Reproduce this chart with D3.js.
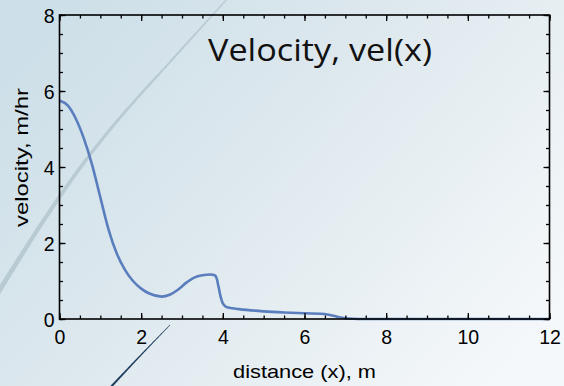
<!DOCTYPE html>
<html><head><meta charset="utf-8">
<script src="https://cdn.jsdelivr.net/npm/d3@7"></script>
<style>html,body{margin:0;padding:0;overflow:hidden}svg{display:block}</style>
</head><body>
<svg id="c" width="564" height="386"></svg>
<script>
const distance = [0,0.2,0.4,0.6,0.8,1.0,1.2,1.4,1.6,1.8,2.0,2.2,2.5,2.7,2.9,3.1,3.3,3.5,3.7,3.8,3.85,3.9,3.95,4.0,4.1,4.4,5.0,5.5,6.0,6.4,6.6,6.8,7.0,7.2,7.4,8,12];
const velocity = [5.75,5.62,5.27,4.74,4.05,3.2,2.36,1.73,1.3,1.0,0.8,0.67,0.59,0.64,0.77,0.95,1.09,1.15,1.17,1.15,1.07,0.82,0.57,0.41,0.31,0.26,0.2,0.17,0.15,0.14,0.11,0.06,0.02,0.005,0,0,0];
const xTickLabels = [0,2,4,6,8,10,12];
const yTickLabels = [0,2,4,6,8];
const titleText = "Velocity, vel(x)";
const xTitle = "distance (x), m";
const yTitle = "velocity, m/hr";

const svg = d3.select("#c");
const W = 564, H = 386;
const defs = svg.append("defs");
const g = defs.append("linearGradient").attr("id","bg").attr("x1","0").attr("y1","0.2").attr("x2","1").attr("y2","0.8");
g.append("stop").attr("offset","0").attr("stop-color","#cddfe8");
g.append("stop").attr("offset","0.5").attr("stop-color","#e0eaef");
g.append("stop").attr("offset","1").attr("stop-color","#f5f8fa");
svg.append("rect").attr("width",W).attr("height",H).attr("fill","url(#bg)");

// decorative tapered strokes
function taper(pts, w0, w1, color, op){
  const path = document.createElementNS("http://www.w3.org/2000/svg","path");
  path.setAttribute("d", d3.line().curve(d3.curveCatmullRom)(pts));
  const L = path.getTotalLength();
  const n = 80, left=[], right=[];
  for(let i=0;i<=n;i++){
    const t=i/n, p=path.getPointAtLength(t*L), q=path.getPointAtLength(Math.min(L,t*L+0.5)), r=path.getPointAtLength(Math.max(0,t*L-0.5));
    let dx=q.x-r.x, dy=q.y-r.y; const d=Math.hypot(dx,dy)||1; dx/=d; dy/=d;
    const w=(w0+(w1-w0)*t)/2;
    left.push([p.x-dy*w,p.y+dx*w]); right.push([p.x+dy*w,p.y-dx*w]);
  }
  svg.append("path").attr("d", d3.line()(left.concat(right.reverse()))+"Z").attr("fill",color).attr("opacity",op);
}
taper([[229,-3],[170,62],[118,120],[80,168],[40,226],[-4,296]], 1.2, 5, "#b7c9d1", 0.95);
taper([[170,325],[140,356],[108,390]], 0.6, 2.2, "#1e3f5e", 1);

const x = d3.scaleLinear().domain([0,12]).range([59.5,549.5]);
const y = d3.scaleLinear().domain([0,8]).range([319,15]);

// curve
svg.append("path")
  .datum(distance.map((d,i)=>[d,velocity[i]]))
  .attr("fill","none").attr("stroke","#5a7dbd").attr("stroke-width",2.6)
  .attr("stroke-linejoin","round")
  .attr("d", d3.line().x(d=>x(d[0])).y(d=>y(d[1])).curve(d3.curveMonotoneX));

const minorX = d3.range(0,12.01,0.5), minorY = d3.range(0,8.01,0.5);
function ax(gen, tr, scale, vals, size, labels){
  const a = svg.append("g").attr("transform",tr).call(gen(scale).tickValues(vals).tickSizeInner(size).tickSizeOuter(0).tickFormat(labels?d3.format("d"):""));
  a.select(".domain").remove();
  a.selectAll("line").attr("stroke","#000").attr("stroke-width",1.3);
  return a;
}
ax(d3.axisBottom,"translate(0,319)",x,minorX,-3.5,false);
ax(d3.axisTop,"translate(0,15)",x,minorX,-3.5,false);
ax(d3.axisLeft,"translate(59.5,0)",y,minorY,-3.5,false);
ax(d3.axisRight,"translate(549.5,0)",y,minorY,-3.5,false);
ax(d3.axisTop,"translate(0,15)",x,xTickLabels,-6,false);
ax(d3.axisRight,"translate(549.5,0)",y,yTickLabels,-6,false);
const bx = ax(d3.axisBottom,"translate(0,319)",x,xTickLabels,-6,true);
bx.selectAll("text").attr("y",25).attr("dy",0).attr("font-size",19.5).attr("fill","#000");
const ly = ax(d3.axisLeft,"translate(59.5,0)",y,yTickLabels,-6,true);
ly.selectAll("text").attr("x",-5).attr("dy","0.36em").attr("font-size",19.5).attr("fill","#000");
svg.selectAll(".tick text").attr("font-family","Liberation Sans, Arial, sans-serif");

// frame
svg.append("rect").attr("x",x(0)).attr("y",y(8)).attr("width",x(12)-x(0)).attr("height",y(0)-y(8))
  .attr("fill","none").attr("stroke","#000").attr("stroke-width",1.6);

svg.append("text").attr("x",208).attr("y",61).attr("textLength",224).attr("lengthAdjust","spacingAndGlyphs")
  .attr("font-family","Open Sans, DejaVu Sans, sans-serif").attr("font-size",31).attr("fill","#111").text(titleText);
svg.append("text").attr("x",233).attr("y",378).attr("textLength",143).attr("lengthAdjust","spacingAndGlyphs")
  .attr("font-family","Liberation Sans, Arial, sans-serif").attr("font-size",18.5).attr("fill","#000").text(xTitle);
svg.append("text").attr("transform","translate(28,227) rotate(-90)").attr("textLength",139).attr("lengthAdjust","spacingAndGlyphs")
  .attr("font-family","Liberation Sans, Arial, sans-serif").attr("font-size",18.5).attr("fill","#000").text(yTitle);
</script>
</body></html>
